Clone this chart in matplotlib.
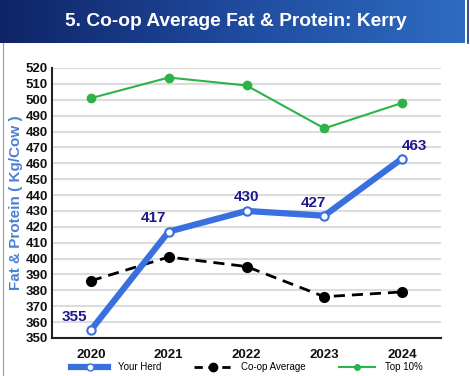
import numpy as np
import matplotlib.pyplot as plt
from matplotlib.lines import Line2D
from matplotlib.colors import LinearSegmentedColormap

years = ["2020", "2021", "2022", "2023", "2024"]
your_herd = [355, 417, 430, 427, 463]
coop_avg = [386, 401, 395, 376, 379]
top_10 = [501, 514, 509, 482, 498]

title = "5. Co-op Average Fat & Protein: Kerry"
ylabel = "Fat & Protein ( Kg/Cow )"

W, H = 470, 376
fig = plt.figure(figsize=(W / 100, H / 100), dpi=100)

# header banner with horizontal gradient
bax = fig.add_axes([0, 1 - 43 / H, 465 / W, 43 / H])
grad = np.linspace(0, 1, 256).reshape(1, -1)
cmap = LinearSegmentedColormap.from_list("banner", ["#0f2466", "#1f4a9e", "#2e6cc0"])
bax.imshow(grad, aspect="auto", cmap=cmap, extent=[0, 1, 0, 1])
bax.set_axis_off()
bax.text(236 / 465, 0.49, title, color="white", fontsize=13.8, fontweight="bold",
         ha="center", va="center", family="Liberation Sans", transform=bax.transAxes)
fig.add_artist(Line2D([467.5 / W, 467.5 / W], [1, 1 - 43 / H], color="#1a2f6e", lw=1.2))
fig.add_artist(Line2D([2.5 / W, 2.5 / W], [0, 1 - 43 / H], color="#9a9a9a", lw=0.8))

ax = fig.add_axes([52 / W, 1 - 338 / H, (441 - 52) / W, (338 - 68) / H])
x = np.arange(len(years))

ax.plot(x, top_10, color="#2db34a", lw=1.5, marker="o", ms=6, zorder=3)
ax.plot(x, coop_avg, color="black", lw=2, ls=(0, (4, 2.5)), marker="o", ms=7, zorder=3)
ax.plot(x, your_herd, color="#3a6fe0", lw=4.5, marker="o", ms=6,
        mfc="white", mec="#3a6fe0", mew=1.5, zorder=4)

# label offsets in pixels (dx, dy) as placed in the original
offsets = [(-16, 6), (-15, 7), (0, 7), (-11, 6), (12, 6)]
for xi, v, (dx, dy) in zip(x, your_herd, offsets):
    ax.annotate(str(v), (xi, v), xytext=(dx, dy), textcoords="offset pixels",
                color="#1e1a8c", fontsize=11, fontweight="bold",
                ha="center", va="bottom", family="Liberation Sans", zorder=5)

ax.set_xlim(-0.5, 4.5)
ax.set_ylim(350, 520)
ax.set_yticks(range(350, 521, 10))
ax.set_xticks(x)
ax.set_xticklabels(years)
ax.grid(axis="y", color="#dcdcdc", lw=1.5)
ax.set_axisbelow(True)
for s in ["top", "right"]:
    ax.spines[s].set_visible(False)
for s in ["left", "bottom"]:
    ax.spines[s].set_color("#222222")
    ax.spines[s].set_linewidth(1.5)
ax.tick_params(length=0, pad=3)
for lab in ax.get_yticklabels() + ax.get_xticklabels():
    lab.set_fontweight("bold")
    lab.set_family("Liberation Sans")
    lab.set_fontsize(9.5)
    lab.set_color("#111111")
ax.tick_params(axis="x", pad=8)
ax.set_ylabel(ylabel, color="#4a80d8", fontsize=11, fontweight="bold",
              family="Liberation Sans", labelpad=2)

handles = [
    Line2D([], [], color="#3a6fe0", lw=4.5, marker="o", ms=5, mfc="white", mec="#3a6fe0"),
    Line2D([], [], color="black", lw=2, ls=(0, (3, 2)), marker="o", ms=6),
    Line2D([], [], color="#2db34a", lw=1.5, marker="o", ms=4),
]
fig.legend(handles, ["Your Herd", "Co-op Average", "Top 10%"], loc="center",
           bbox_to_anchor=(247 / W, 1 - 367 / H), ncol=3, frameon=False,
           prop={"family": "Liberation Sans", "size": 7}, handlelength=3.8,
           columnspacing=3.4, handletextpad=1.0)

fig.savefig("out.png", dpi=100)
